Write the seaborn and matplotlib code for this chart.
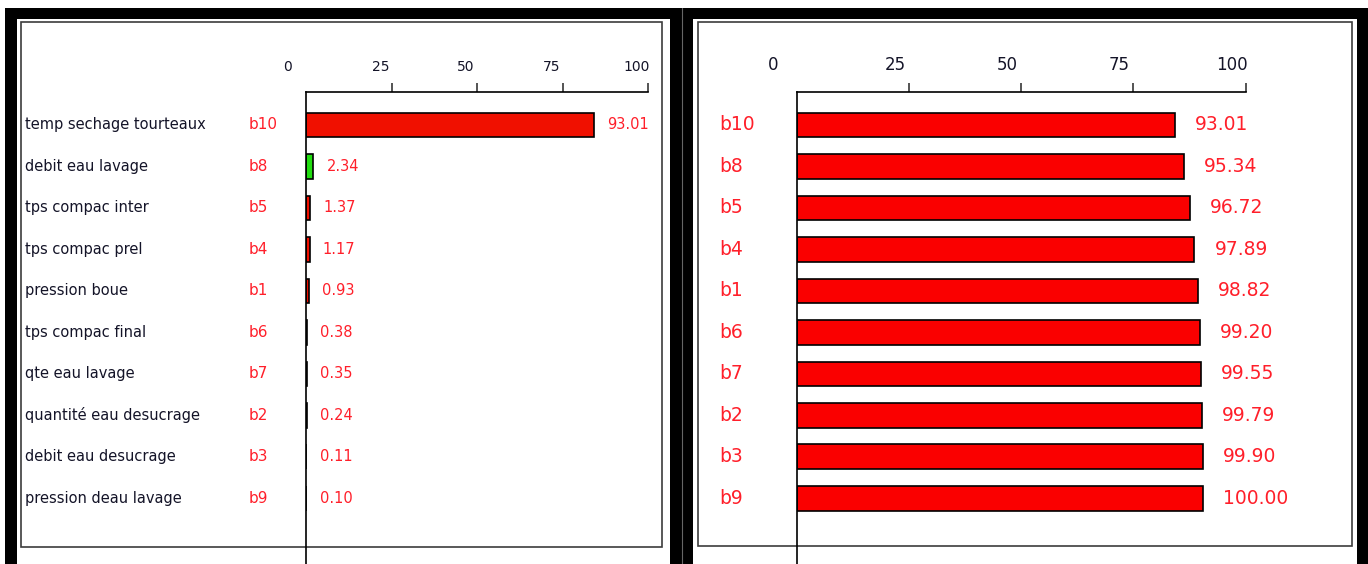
import matplotlib
matplotlib.use("Agg")
import matplotlib.pyplot as plt
import matplotlib.transforms as mtransforms
from matplotlib.patches import Rectangle
from matplotlib.lines import Line2D
import seaborn as sns
import pandas as pd

# data
factors = ["temp sechage tourteaux", "debit eau lavage", "tps compac inter",
           "tps compac prel", "pression boue", "tps compac final",
           "qte eau lavage", "quantité eau desucrage", "debit eau desucrage",
           "pression deau lavage"]
codes = ["b10", "b8", "b5", "b4", "b1", "b6", "b7", "b2", "b3", "b9"]
effect_pct = [93.01, 2.34, 1.37, 1.17, 0.93, 0.38, 0.35, 0.24, 0.11, 0.10]
cumul_pct = [93.01, 95.34, 96.72, 97.89, 98.82, 99.20, 99.55, 99.79, 99.90, 100.00]
tick_values = [0, 25, 50, 75, 100]

# the original software draws its 0..100 scale about 10% wider than the bars
stretch = 1.105

red_left = "#f01000"
green = "#22dd11"
red_right = "#fa0000"
red_txt = "#ff1f2a"
dark_txt = "#141428"
left_colors = [red_left, green] + [red_left] * 8

sns.set_style("white")
plt.rcParams["font.family"] = ["DejaVu Sans"]

df = pd.DataFrame({"code": codes, "factor": factors,
                   "effect": effect_pct, "cumul": cumul_pct})

W, H = 1368, 564
fig = plt.figure(figsize=(W / 100, H / 100), dpi=100, facecolor="white")


def fx(px):
    return px / W


def fy(py):
    return 1 - py / H


# black window background, two white panels with thin frames
fig.add_artist(Rectangle((fx(5), 0), fx(W) - fx(5), fy(8), transform=fig.transFigure,
                         facecolor="black", edgecolor="none", zorder=0))
fig.add_artist(Line2D([fx(681.5)] * 2, [0, fy(8)], transform=fig.transFigure,
                      color="#666666", lw=0.8, zorder=0.1))
for x0, x1 in [(17, 670), (693, 1357)]:
    fig.add_artist(Rectangle((fx(x0), 0), fx(x1) - fx(x0), fy(19), transform=fig.transFigure,
                             facecolor="white", edgecolor="none", zorder=0.2))
for x0, x1, y1 in [(21, 662, 547), (698, 1352, 546)]:
    fig.add_artist(Rectangle((fx(x0), fy(y1)), fx(x1) - fx(x0), fy(22) - fy(y1),
                             transform=fig.transFigure, fill=False,
                             edgecolor="#3c3c3c", lw=1.2, zorder=0.3))

ax_h = (H - 92) / H
axL = fig.add_axes([fx(306), 0, (648 - 306) / W, ax_h])
axR = fig.add_axes([fx(796.7), 0, (1245.6 - 796.7) / W, ax_h])

sns.barplot(data=df, x="effect", y="code", hue="code", order=codes, hue_order=codes,
            palette=left_colors, orient="h", width=0.6, saturation=1,
            edgecolor="black", linewidth=1.2, legend=False, ax=axL)
sns.barplot(data=df, x="cumul", y="code", order=codes, color=red_right,
            orient="h", width=0.6, saturation=1,
            edgecolor="black", linewidth=1.2, ax=axR)

for ax, tick_fs, shift, zero_shift in [(axL, 10, -0.11, -0.19), (axR, 12, -0.14, -0.24)]:
    ax.set_zorder(1)
    ax.set_facecolor("none")
    ax.set_xlim(0, 100 * stretch)
    ax.set_ylim(10.58, -0.795)
    ax.set_xlabel("")
    ax.set_ylabel("")
    ax.set_yticks([])
    for s in ["right", "bottom"]:
        ax.spines[s].set_visible(False)
    for s in ["left", "top"]:
        ax.spines[s].set_color("black")
        ax.spines[s].set_linewidth(1.2)
    ax.xaxis.tick_top()
    ax.set_xticks([v * stretch for v in tick_values], [str(v) for v in tick_values])
    ax.tick_params(axis="x", top=True, bottom=False, direction="out", length=6.5,
                   width=1.1, pad=6.5, labelsize=tick_fs, labelcolor=dark_txt)
    ticks = ax.xaxis.get_major_ticks()
    ticks[0].tick2line.set_visible(False)
    for k, t in enumerate(ticks):
        dx = zero_shift if k == 0 else shift
        off = mtransforms.ScaledTranslation(dx, 0, fig.dpi_scale_trans)
        t.label2.set_transform(t.label2.get_transform() + off)

for c in axL.containers:
    axL.bar_label(c, fmt="%.2f", padding=9.5, color=red_txt, fontsize=10.5)
for c in axR.containers:
    axR.bar_label(c, fmt="%.2f", padding=14.5, color=red_txt, fontsize=13.5)

transL = mtransforms.blended_transform_factory(fig.transFigure, axL.transData)
transR = mtransforms.blended_transform_factory(fig.transFigure, axR.transData)
for i, (name, code) in enumerate(zip(factors, codes)):
    axL.text(fx(25), i, name, transform=transL, ha="left", va="center",
             fontsize=10.5, color=dark_txt, clip_on=False)
    axL.text(fx(249), i, code, transform=transL, ha="left", va="center",
             fontsize=11, color=red_txt, clip_on=False)
    axR.text(fx(719), i, code, transform=transR, ha="left", va="center",
             fontsize=13.5, color=red_txt, clip_on=False)

fig.savefig("out.png", dpi=100)
